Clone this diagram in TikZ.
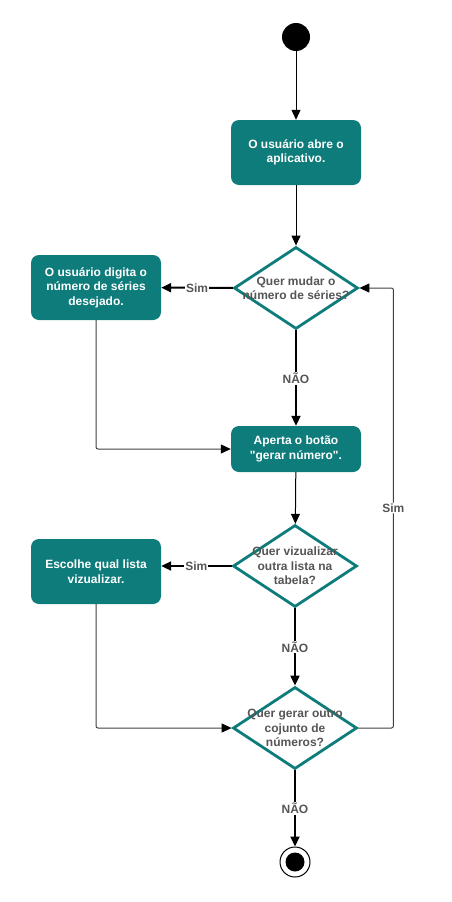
\documentclass[tikz,border=0pt]{standalone}
\usepackage{fontspec}
\setmainfont{Liberation Sans}
\usetikzlibrary{arrows.meta,shapes.geometric}
\definecolor{teal}{RGB}{14,124,123}
\definecolor{txtgray}{RGB}{85,85,85}
\tikzset{%
    act/.style={rectangle, rounded corners=8pt, fill=teal, text=white, font=\bfseries\fontsize{12}{14.5}\selectfont, align=center, minimum width=130pt, minimum height=65pt, inner sep=2pt},
    dec/.style={diamond, draw=teal, line width=2.8pt, fill=white, minimum width=124pt, minimum height=82pt, inner sep=0pt},
    dtxt/.style={text=txtgray, font=\bfseries\fontsize{12}{14.5}\selectfont, align=center, inner sep=0pt},
    lab/.style={rectangle, fill=white, text=txtgray, font=\bfseries\fontsize{12}{14}\selectfont, inner sep=1pt},
    pra/.style={line width=2pt, -{Triangle[length=10pt,width=9pt]}},
    seca/.style={line width=1pt, -{Triangle[length=10pt,width=9pt]}},
    retn/.style={line width=1pt, draw=black!75, rounded corners=2pt, -{Triangle[length=10pt,width=9pt,color=black]}},
}
\begin{document}
\begin{tikzpicture}[x=1pt,y=-1pt]
    \useasboundingbox (0,0) rectangle (452,902);
    \node [circle, fill=black, minimum size=28pt, inner sep=0pt] (ini) at (296,37) {};
    \node [act] (abre) at (296,152.5) {O usuário abre o\\aplicativo.};
    \node [dec, label={[dtxt]center:Quer mudar o\\número de séries?}] (mudar) at (296,288) {};
    \node [act] (digita) at (96,287.5) {O usuário digita o\\número de séries\\desejado.};
    \node [act, minimum height=46pt] (gerar) at (296,449) {Aperta o botão\\\textquotedbl gerar número\textquotedbl.};
    \node [dec, label={[dtxt]center:Quer vizualizar\\outra lista na\\tabela?}] (vizu) at (295,566) {};
    \node [act] (escolhe) at (96,571.5) {Escolhe qual lista\\vizualizar.};
    \node [dec, label={[dtxt]center:Quer gerar outro\\cojunto de\\números?}] (outro) at (295,728) {};
    \node [circle, draw=black, line width=1pt, fill=white, minimum size=30pt, inner sep=0pt] (fim) at (295,862) {};
    \node [circle, fill=black, minimum size=19pt, inner sep=0pt] at (fim) {};
    \draw [seca] (ini) -- (abre);
    \draw [seca] (abre) -- (mudar);
    \draw [pra] (mudar) -- node[lab]{Sim} (digita);
    \draw [pra] (mudar) -- node[lab]{NÃO} (gerar);
    \draw [retn] (digita.south) |- (gerar.west);
    \draw [seca] (gerar) -- (vizu);
    \draw [pra] (vizu.west) -- node[lab]{Sim} (vizu.west -| escolhe.east);
    \draw [pra] (vizu) -- node[lab]{NÃO} (outro);
    \draw [retn] (escolhe.south) |- (outro.west);
    \draw [retn] (outro.east) -- ++(35,0) |- node[lab,pos=0.25]{Sim} (mudar.east);
    \draw [pra] (outro) -- node[lab]{NÃO} (fim);
\end{tikzpicture}
\end{document}
